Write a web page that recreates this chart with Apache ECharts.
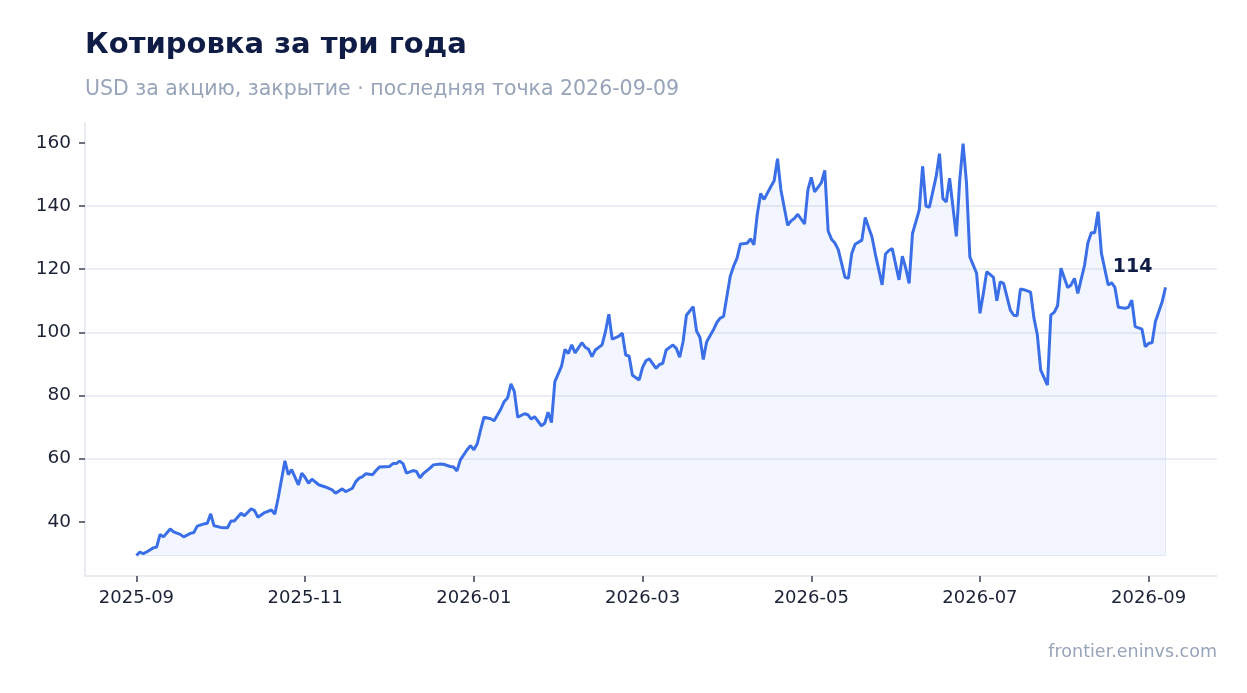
<!DOCTYPE html>
<html lang="ru">
<head>
<meta charset="UTF-8">
<title>Котировка за три года</title>
<script src="https://cdn.jsdelivr.net/npm/echarts@6/dist/echarts.min.js"></script>
<style>
    html, body { margin: 0; padding: 0; background: #fff; }
    #main { width: 1247px; height: 693px; }
</style>
</head>
<body>
<div id="main"></div>
<script>
// номер торговой сессии (0 = первая точка) и цена закрытия, USD
var sessionIdx = [
    0, 1, 2, 3, 5, 6, 7, 8, 10, 11,
    13, 14, 16, 17, 18, 20, 21, 22, 23, 25,
    27, 28, 29, 31, 32, 34, 35, 36, 38, 40,
    41, 42, 44, 45, 46, 48, 49, 50, 51, 52,
    54, 56, 58, 59, 61, 62, 64, 65, 66, 67,
    68, 70, 71, 72, 75, 76, 77, 78, 79, 80,
    82, 83, 84, 85, 87, 88, 90, 91, 93, 94,
    95, 96, 98, 99, 100, 101, 102, 103, 105, 106,
    108, 109, 110, 111, 112, 113, 115, 116, 117, 118,
    120, 121, 122, 123, 124, 126, 127, 128, 129, 130,
    132, 133, 134, 135, 136, 138, 139, 140, 141, 143,
    144, 145, 146, 147, 149, 150, 151, 152, 154, 155,
    156, 157, 159, 160, 161, 162, 163, 165, 166, 167,
    168, 169, 171, 172, 173, 174, 176, 177, 178, 179,
    181, 182, 183, 184, 185, 186, 188, 189, 190, 191,
    193, 194, 195, 196, 198, 199, 200, 201, 203, 204,
    205, 206, 207, 208, 210, 211, 212, 213, 215, 216,
    217, 218, 219, 221, 222, 223, 224, 226, 227, 228,
    229, 230, 232, 233, 234, 235, 237, 238, 239, 240,
    241, 243, 244, 245, 246, 247, 249, 250, 251, 252,
    254, 255, 256, 257, 259, 260, 261, 262, 263, 265,
    266, 267, 268, 270, 271, 272, 273, 274, 276, 277,
    278, 279, 281, 282, 283, 284, 285, 286, 288, 289,
    290, 291, 293, 294, 295, 296, 298, 299, 300, 301,
    302, 304, 305
];
var closePrice = [
    29.3, 30.4, 29.9, 30.4, 31.7, 32.0, 36.0, 35.2, 37.7, 36.8,
    36.0, 35.2, 36.3, 36.6, 38.6, 39.3, 39.5, 42.5, 38.7, 38.2,
    38.1, 40.2, 40.2, 42.7, 41.9, 44.1, 43.5, 41.4, 42.9, 43.7,
    42.4, 47.5, 59.3, 54.9, 56.5, 51.7, 55.4, 54.0, 52.2, 53.5,
    51.7, 51.0, 50.1, 49.0, 50.4, 49.5, 50.6, 52.7, 53.8, 54.3,
    55.2, 54.9, 56.2, 57.3, 57.5, 58.4, 58.4, 59.2, 58.4, 55.4,
    56.2, 55.9, 53.9, 55.2, 57.0, 58.0, 58.3, 58.2, 57.5, 57.3,
    56.1, 59.6, 62.8, 64.1, 62.8, 64.7, 69.1, 73.1, 72.6, 72.0,
    75.7, 78.1, 79.2, 83.7, 81.2, 73.1, 74.2, 73.9, 72.5, 73.3,
    70.4, 71.2, 74.7, 71.4, 84.4, 89.3, 94.6, 93.3, 96.0, 93.5,
    96.7, 95.3, 94.6, 92.3, 94.4, 96.0, 100.2, 105.7, 97.8, 98.8,
    99.7, 92.8, 92.5, 86.4, 84.9, 88.9, 91.0, 91.6, 88.6, 89.8,
    90.2, 94.4, 96.0, 94.9, 92.1, 97.0, 105.4, 108.1, 100.4, 98.4,
    91.4, 97.0, 100.8, 103.1, 104.5, 105.0, 117.8, 121.0, 123.5, 128.0,
    128.2, 129.6, 127.7, 137.4, 144.0, 142.1, 146.1, 148.0, 155.0, 145.1,
    133.9, 135.3, 136.1, 137.4, 134.3, 145.1, 149.1, 144.5, 147.4, 151.3,
    132.1, 129.5, 128.3, 126.2, 117.4, 117.1, 125.0, 127.9, 129.2, 136.4,
    133.2, 130.2, 124.7, 115.0, 124.8, 125.9, 126.5, 116.6, 124.1, 120.3,
    115.5, 131.3, 138.7, 152.6, 140.0, 139.6, 149.3, 156.6, 142.4, 141.3,
    148.8, 130.4, 148.2, 159.8, 147.4, 123.9, 118.7, 106.0, 112.3, 119.2,
    117.4, 110.0, 116.0, 115.5, 107.0, 105.4, 105.2, 113.7, 113.5, 112.7,
    104.5, 99.2, 88.0, 83.3, 105.5, 106.3, 108.4, 120.3, 114.2, 115.0,
    117.1, 112.3, 121.3, 128.4, 131.5, 131.5, 138.2, 125.0, 115.0, 115.7,
    114.2, 107.9, 107.6, 107.9, 110.2, 101.8, 101.0, 95.4, 96.5, 96.7,
    103.4, 109.7, 114.2
];
// подписи оси X стоят на каждой 50-й сессии
var tickSessions = [0, 50, 100, 150, 200, 250, 300];
var tickLabels = ['2025-09', '2025-11', '2026-01', '2026-03', '2026-05', '2026-07', '2026-09'];
var priceTicks = [40, 60, 80, 100, 120, 140, 160];

var font = 'DejaVu Sans';
var navy = '#0f1c45';
var muted = '#98a4b9';
var blue = '#3b6fe8';

var last = closePrice.length - 1;
var floorPrice = Math.min.apply(null, closePrice);
var seriesData = sessionIdx.map(function (s, i) {
    var item = { value: [s, closePrice[i]] };
    if (i === last) {
        item.label = {
            show: true,
            position: 'top',
            distance: 5,
            offset: [-33, -6],
            formatter: function (p) { return Math.round(p.value[1]); },
            fontFamily: font,
            fontSize: 19,
            fontWeight: 'bold',
            color: navy
        };
    }
    return item;
});

// контур заливки (как у fill_between): низ и правый край
var fillEdges = [
    [{ coord: [sessionIdx[0], floorPrice] }, { coord: [sessionIdx[last], floorPrice] }],
    [{ coord: [sessionIdx[last], floorPrice] }, { coord: [sessionIdx[last], closePrice[last]] }]
];

var myChart = echarts.init(document.getElementById('main'));
myChart.setOption({
    animation: false,
    backgroundColor: '#ffffff',
    title: [
        {
            text: 'Котировка за три года',
            left: 85, top: 31, padding: 0,
            textStyle: { fontFamily: font, fontSize: 29, fontWeight: 'bold', color: navy }
        },
        {
            text: 'USD за акцию, закрытие · последняя точка 2026-09-09',
            left: 85, top: 79, padding: 0,
            textStyle: { fontFamily: font, fontSize: 20.5, fontWeight: 'normal', color: muted }
        },
        {
            text: 'frontier.eninvs.com',
            right: 30, top: 643, padding: 0,
            textStyle: { fontFamily: font, fontSize: 17.5, fontWeight: 'normal', color: muted }
        }
    ],
    grid: { left: 85, right: 30, top: 123, bottom: 117 },
    xAxis: {
        type: 'value',
        min: -15.25,
        max: 320.25,
        splitLine: { show: false },
        axisLine: { show: true, onZero: false, lineStyle: { color: '#e1e5ee', width: 1.5 } },
        axisTick: { show: true, customValues: tickSessions, length: 6, lineStyle: { color: '#3d4253', width: 1.5 } },
        axisLabel: {
            customValues: tickSessions,
            formatter: function (v) {
                var k = tickSessions.indexOf(Math.round(v));
                return k < 0 ? '' : tickLabels[k];
            },
            margin: 13,
            fontFamily: font,
            fontSize: 18,
            color: '#1c2236'
        }
    },
    yAxis: {
        type: 'value',
        min: 22.8,
        max: 166.3,
        splitNumber: 7,
        axisLine: { show: true, onZero: false, lineStyle: { color: '#e1e5ee', width: 1.5 } },
        axisTick: { show: true, customValues: priceTicks, length: 6, lineStyle: { color: '#3d4253', width: 1.5 } },
        axisLabel: {
            customValues: priceTicks,
            margin: 14,
            fontFamily: font,
            fontSize: 18.5,
            color: '#1c2236'
        },
        splitLine: { show: true, showMinLine: false, showMaxLine: false, lineStyle: { color: '#e4e8f0', width: 1.5 } }
    },
    series: [
        {
            type: 'line',
            data: seriesData,
            symbol: 'circle',
            symbolSize: 0,
            showSymbol: true,
            lineStyle: { color: blue, width: 3 },
            itemStyle: { color: blue },
            areaStyle: { color: 'rgba(59,111,232,0.09)', origin: floorPrice },
            emphasis: { disabled: true },
            markLine: {
                silent: true,
                symbol: 'none',
                label: { show: false },
                lineStyle: { type: 'solid', color: 'rgba(59,111,232,0.12)', width: 1 },
                data: fillEdges,
                z: 1
            },
            z: 3
        }
    ]
});
</script>
</body>
</html>
